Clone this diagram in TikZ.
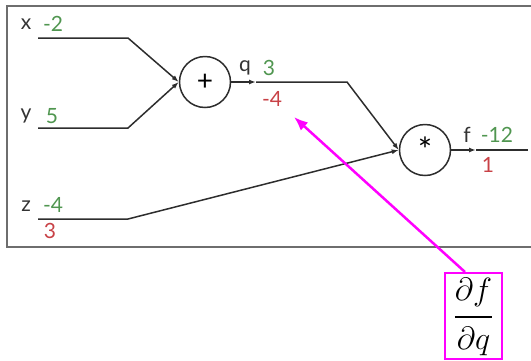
\documentclass[tikz,border=0pt]{standalone}
\usepackage{amsmath}
\usepackage{graphicx}
\usepackage{fontspec}
\setmainfont{Lato}
\usetikzlibrary{arrows.meta}
\definecolor{valgreen}{RGB}{80,150,80}
\definecolor{gradred}{RGB}{200,65,70}
\definecolor{wire}{RGB}{45,45,45}
\definecolor{framegray}{RGB}{110,110,110}
\definecolor{pinkline}{RGB}{255,0,255}
\tikzset{
  wireline/.style={draw=wire, line width=1.5pt},
  tip/.style={-{Latex[length=7pt,width=5pt]}},
  gate/.style={circle, draw=wire, line width=1.5pt, minimum size=51pt, inner sep=0pt, font=\fontsize{28}{28}\selectfont},
  varname/.style={text=black!80, font=\fontsize{21}{21}\selectfont, inner sep=0pt},
  fwd/.style={text=valgreen, font=\fontsize{21}{21}\selectfont, inner sep=0pt},
  bwd/.style={text=gradred, font=\fontsize{21}{21}\selectfont, inner sep=0pt},
}
\begin{document}
\begin{tikzpicture}[x=1pt,y=-1pt]
\useasboundingbox (0,0) rectangle (531,360);
% outer frame (runs off the right edge)
\draw[framegray, line width=1.5pt] (545,6) -- (7,6) -- (7,247) -- (545,247);

% gates
\node[gate] (plus) at (205,82) {+};
\node[gate] (star) at (425,150) {\raisebox{-6pt}{\fontsize{34}{34}\selectfont *}};

% wire coordinates
\coordinate (x0) at (38,38);  \coordinate (x1) at (128,38);
\coordinate (y0) at (38,128); \coordinate (y1) at (128,128);
\coordinate (z0) at (38,219); \coordinate (z1) at (128,219);
\coordinate (qa) at (256,82); \coordinate (q1) at (347,82);
\coordinate (fa) at (476,150); \coordinate (f1) at (528,150);

% wires
\draw[wireline, tip] (x0) -- (x1) -- (plus.west);
\draw[wireline, tip] (y0) -- (y1) -- (plus.west);
\draw[wireline, tip] (z0) -- (z1) -- (star.west);
\draw[wireline, tip] (plus.east) -- (qa);
\draw[wireline, tip] (qa) -- (q1) -- (star.west);
\draw[wireline, tip] (star.east) -- (fa);
\draw[wireline] (fa) -- (f1);

% labels
\node[varname] (lx) at (26,24) {x};
\node[fwd] (vx) at (53,24) {-2};
\node[varname] (ly) at (26,116) {y};
\node[fwd] (vy) at (52,116) {5};
\node[varname] (lz) at (26,206) {z};
\node[fwd] (vz) at (53,205) {-4};
\node[bwd] (gz) at (50,231) {3};
\node[varname] (lq) at (245,68) {q};
\node[fwd] (vq) at (269,68) {3};
\node[bwd] (gq) at (272,99) {-4};
\node[varname] (lf) at (467,135) {f};
\node[fwd] (vf) at (497,135) {-12};
\node[bwd] (gf) at (488,165) {1};

% annotation: df/dq in a magenta box, pointing at the gradient of q
\node[draw=pinkline, line width=2pt, minimum width=57pt, minimum height=86pt, inner sep=0pt, anchor=north west] (dfdq) at (444,272) {};
\node (frac) at ([yshift=-1pt]dfdq.center) {\scalebox{1.55}{\fontsize{20.74}{24}\selectfont$\genfrac{}{}{1.8pt}{0}{\partial f}{\partial q}$}};
\coordinate (dq) at (465,272);
\coordinate (dtip) at (294,117);
\draw[pinkline, line width=2.5pt, -{Latex[length=14pt,width=11pt]}] (dq) -- (dtip);
\end{tikzpicture}
\end{document}
